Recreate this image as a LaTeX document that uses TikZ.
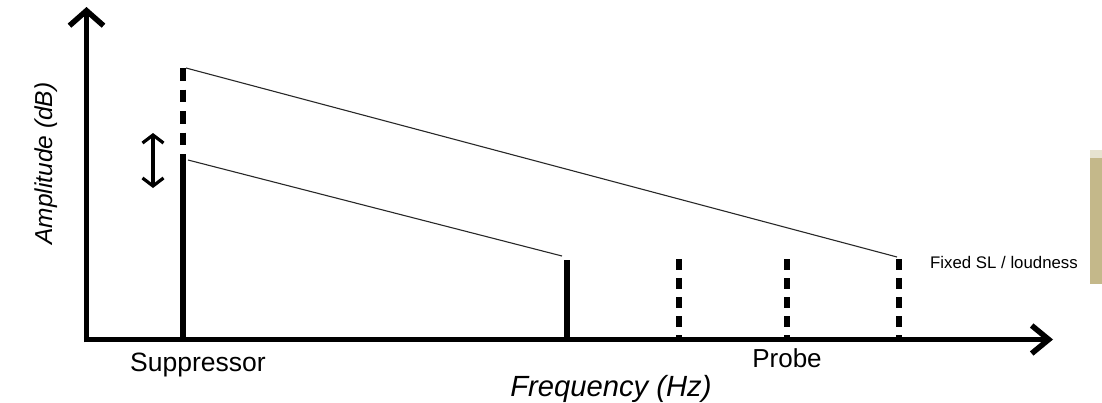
\documentclass[tikz,border=0pt]{standalone}
\usepackage{fontspec}
\setmainfont{Liberation Sans}
\usetikzlibrary{arrows.meta}
\definecolor{tanbar}{RGB}{196,184,138}
\definecolor{thinline}{RGB}{40,40,40}
\begin{document}
\begin{tikzpicture}[x=1pt,y=-1pt,
  axisline/.style={line width=5.5pt},
  yarrow/.style={-{Straight Barb[length=15pt,width=34pt]}},
  xarrow/.style={-{Straight Barb[length=17pt,width=28pt]}},
  tone/.style={line width=5.5pt},
  dashtone/.style={line width=5.5pt, dash pattern=on 11pt off 8pt},
  supdash/.style={line width=5.5pt, dash pattern=on 12.5pt off 9pt},
  slope/.style={line width=1.1pt, thinline},
  dbl/.style={line width=3.2pt, {Straight Barb[length=8pt,width=21pt]}-{Straight Barb[length=8pt,width=21pt]}},
  lbl/.style={inner sep=0pt, anchor=base}
]
\useasboundingbox (0,0) rectangle (1102,402);
% tan bar at right edge
\fill[tanbar] (1090,158) rectangle (1102,284);
\fill[tanbar!40] (1090,150) rectangle (1102,158);

% axes
\coordinate (ybot) at (86.5,342.25);
\coordinate (ytip) at (86.5,7);
\coordinate (xleft) at (83.75,339.5);
\coordinate (xtip) at (1053,339.5);
\draw[axisline,yarrow] (ybot) -- (ytip);
\draw[axisline,xarrow] (xleft) -- (xtip);

% suppressor
\coordinate (s0) at (183,339.5);
\coordinate (s1) at (183,158);
\coordinate (s2) at (183,68);
\draw[tone] (s0) -- (s1);
\draw[supdash] (s2) -- (s1);

% sloping lines
\coordinate (u0) at (186,68);
\coordinate (u1) at (897,257);
\coordinate (l0) at (188,160);
\coordinate (l1) at (562,256);
\draw[slope] (u0) -- (u1);
\draw[slope] (l0) -- (l1);

% probe tones
\coordinate (p0a) at (567,260);   \coordinate (p0b) at (567,339.5);
\coordinate (p1a) at (679,259);   \coordinate (p1b) at (679,339.5);
\coordinate (p2a) at (787,259);   \coordinate (p2b) at (787,339.5);
\coordinate (p3a) at (899,259);   \coordinate (p3b) at (899,339.5);
\draw[tone] (p0a) -- (p0b);
\draw[dashtone] (p1a) -- (p1b);
\draw[dashtone] (p2a) -- (p2b);
\draw[dashtone] (p3a) -- (p3b);

% double arrow
\coordinate (da) at (153,133);
\coordinate (db) at (153,188);
\draw[dbl] (da) -- (db);

% labels
\node[lbl, font=\fontsize{26.5}{32}\selectfont] (sup) at (198,371) {Suppressor};
\node[lbl, font=\fontsize{26}{31}\selectfont] (probe) at (787,367) {Probe};
\node[lbl, font=\fontsize{29.2}{35}\selectfont\itshape] (freq) at (611,396) {Frequency (Hz)};
\node[lbl, font=\fontsize{24.5}{30}\selectfont\itshape, rotate=90] (amp) at (52,163.5) {Amplitude (dB)};
\node[inner sep=0pt, anchor=base west, font=\fontsize{16.8}{20}\selectfont] (fixed) at (930,268) {Fixed SL / loudness};
\end{tikzpicture}
\end{document}
